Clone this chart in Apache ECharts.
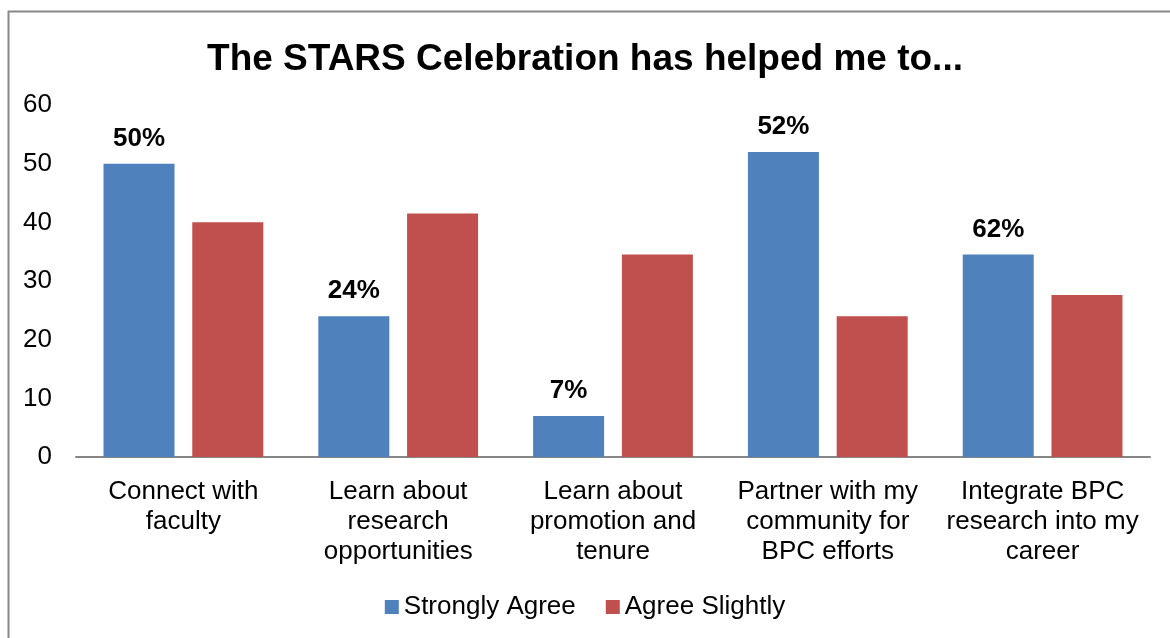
<!DOCTYPE html>
<html>
<head>
<meta charset="utf-8">
<script src="https://cdn.jsdelivr.net/npm/echarts@6/dist/echarts.min.js"></script>
<style>
html,body{margin:0;padding:0;background:#fff;}
#chart{width:1170px;height:638px;}
</style>
</head>
<body>
<div id="chart"></div>
<script>
const categories = ["Connect with\nfaculty", "Learn about\nresearch\nopportunities", "Learn about\npromotion and\ntenure", "Partner with my\ncommunity for\nBPC efforts", "Integrate BPC\nresearch into my\ncareer"];
const stronglyAgree = [50, 24, 7, 52, 34.5];
const agreeSlightly = [40, 41.5, 34.5, 24, 27.6];
const stronglyLabels = ["50%", "24%", "7%", "52%", "62%"];
const yTicks = [0, 10, 20, 30, 40, 50, 60];

const chart = echarts.init(document.getElementById('chart'));
const font = 'Liberation Sans, Arial, sans-serif';
chart.setOption({
  animation: false,
  textStyle: {fontFamily: font},
  graphic: [{
    type: 'rect', left: 6, top: 9,
    shape: {width: 1180, height: 650},
    style: {fill: 'none', stroke: '#888888', lineWidth: 2}
  }],
  title: {
    text: 'The STARS Celebration has helped me to...',
    left: 'center', top: 36,
    textStyle: {fontSize: 37, fontWeight: 'bold', color: '#000', fontFamily: font}
  },
  legend: {
    bottom: 13, left: 'center',
    itemWidth: 14, itemHeight: 14, itemGap: 30,
    icon: 'rect',
    textStyle: {fontSize: 26, color: '#000', fontFamily: font},
    data: ['Strongly Agree', 'Agree Slightly']
  },
  grid: {left: 76, right: 20, top: 105, bottom: 181, containLabel: false},
  xAxis: {
    type: 'category',
    data: categories,
    axisLine: {lineStyle: {color: '#868686', width: 2}},
    axisTick: {show: false},
    axisLabel: {fontSize: 26, color: '#000', lineHeight: 30, margin: 20, interval: 0, fontFamily: font}
  },
  yAxis: {
    type: 'value', min: 0, max: 60, interval: 10,
    splitLine: {show: false},
    axisLine: {show: false},
    axisTick: {show: false},
    axisLabel: {fontSize: 26, color: '#000', margin: 24, fontFamily: font,
      formatter: v => yTicks.includes(v) ? String(v) : ''}
  },
  series: [{
    name: 'Strongly Agree', type: 'bar',
    data: stronglyAgree,
    barWidth: 71, barGap: '25%',
    itemStyle: {color: '#4F81BD'},
    label: {show: true, position: 'top', distance: 12, fontSize: 26, fontWeight: 'bold', color: '#000', fontFamily: font,
      formatter: p => stronglyLabels[p.dataIndex]}
  }, {
    name: 'Agree Slightly', type: 'bar',
    data: agreeSlightly,
    barWidth: 71,
    itemStyle: {color: '#C0504D'}
  }]
});
</script>
</body>
</html>
